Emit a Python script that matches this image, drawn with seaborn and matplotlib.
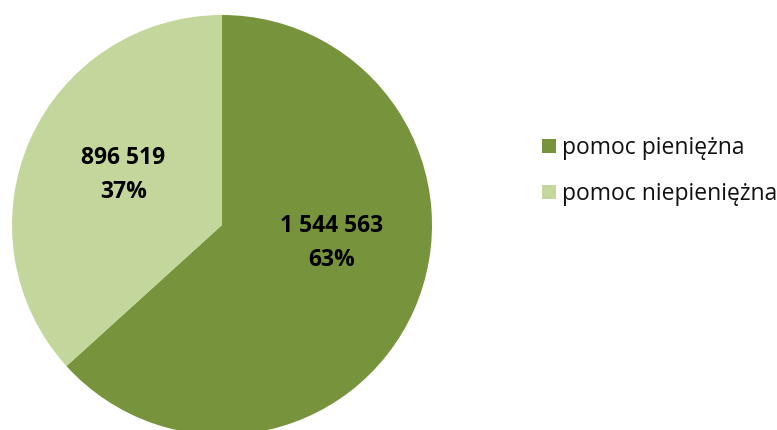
import matplotlib
matplotlib.use("Agg")
import matplotlib.pyplot as plt
import seaborn as sns

sns.set_theme(style="white")
plt.rcParams['font.family'] = ['Open Sans', 'DejaVu Sans']

labels = ['pomoc pieniężna', 'pomoc niepieniężna']
values = [1544563, 896519]
value_texts = ['1 544 563', '896 519']
colors = ['#77933C', '#C3D69B']

fig = plt.figure(figsize=(7.77, 4.30), dpi=100)
ax = fig.add_axes([12 / 777, -5 / 430, 420 / 777, 420 / 430])

wedges, _ = ax.pie(values, colors=colors, startangle=90, counterclock=False,
                   radius=1.0, wedgeprops=dict(linewidth=0))
ax.set_aspect('equal')
ax.set_xlim(-1, 1)
ax.set_ylim(-1, 1)

total = sum(values)
pos = [(0.52, -0.085), (-0.47, 0.24)]
for (x, y), t, v in zip(pos, value_texts, values):
    ax.text(x, y, f"{t}\n{round(v / total * 100)}%", ha='center', va='center',
            fontsize=16.5, fontweight='bold', color='black', linespacing=1.55)

leg = fig.legend(wedges, labels, loc='upper left', bbox_to_anchor=(533 / 777, 1 - 127 / 430),
                 frameon=False, fontsize=16.5, handlelength=0.6, handleheight=0.6,
                 handletextpad=0.25, labelspacing=0.95, borderaxespad=0)
for txt in leg.get_texts():
    txt.set_color('#111111')

fig.savefig('out.png', dpi=100)
